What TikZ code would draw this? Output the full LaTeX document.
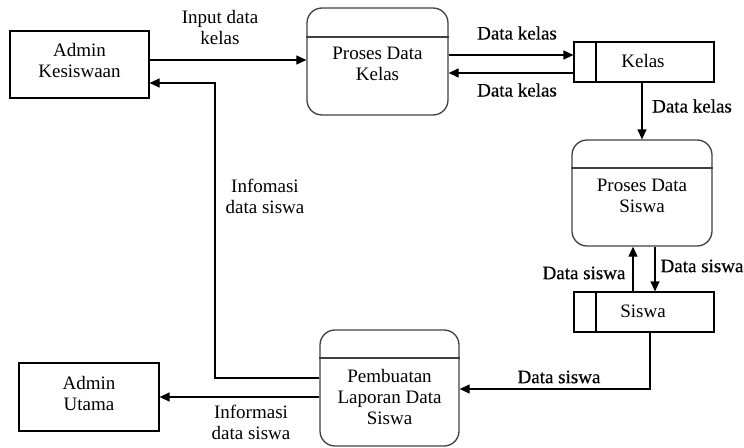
\documentclass[tikz,border=0pt]{standalone}
\usepackage{fontspec}
\setmainfont{Liberation Serif}
\newfontfamily\labfont[FakeBold=0.4]{Liberation Serif}
\usetikzlibrary{arrows.meta}
\begin{document}
\begin{tikzpicture}[x=1pt,y=-1pt,
  line width=1.2pt,
  every node/.style={font=\fontsize{19}{21}\selectfont},
  ent/.style={draw, rectangle, inner sep=0pt},
  proc/.style={draw, rounded corners=15pt, inner sep=0pt, line width=1.3pt, draw=black!75},
  store/.style={draw, rectangle, inner sep=0pt},
  txt/.style={align=center, inner sep=0pt},
  lab/.style={align=center, inner sep=0pt},
  dlab/.style={align=center, inner sep=0pt, font=\fontsize{19}{21}\selectfont\labfont},
  flow/.style={-{Triangle[length=10pt,width=9pt]}}
]
\useasboundingbox (0,0) rectangle (744,447);

% entities
\node[ent, minimum width=139pt, minimum height=67pt] (ak) at (79.5,64.5) {};
\node[txt] (akt) at (79.5,61) {Admin\\Kesiswaan};
\node[ent, minimum width=140pt, minimum height=68pt] (au) at (89,397) {};
\node[txt] (aut) at (89,393) {Admin\\Utama};

% processes
\node[proc, minimum width=141pt, minimum height=107pt] (pk) at (377.5,61.5) {};
\draw[draw=black!75, line width=1.3pt] (pk.west |- 0,37) -- (pk.east |- 0,37);
\node[txt] (pkt) at (377.5,63.5) {Proses Data\\Kelas};

\node[proc, minimum width=140pt, minimum height=106pt] (ps) at (642,193) {};
\draw[draw=black!75, line width=1.3pt] (ps.west |- 0,168) -- (ps.east |- 0,168);
\node[txt] (pst) at (642,195.5) {Proses Data\\Siswa};

\node[proc, minimum width=139pt, minimum height=116pt] (pl) at (389.5,388) {};
\draw[draw=black!75, line width=1.3pt] (pl.west |- 0,358) -- (pl.east |- 0,358);
\node[txt] (plt) at (389.5,396.5) {Pembuatan\\Laporan Data\\Siswa};

% data stores
\node[store, minimum width=140pt, minimum height=40pt] (kelas) at (644,62) {};
\draw (596,0 |- kelas.north) -- (596,0 |- kelas.south);
\node[txt] (kelast) at (643,61) {Kelas};
\node[store, minimum width=140pt, minimum height=40pt] (siswa) at (644,312) {};
\draw (596,0 |- siswa.north) -- (596,0 |- siswa.south);
\node[txt] (siswat) at (643,311) {Siswa};

% flows
\draw[flow] (ak.east |- 0,60) -- (pk.west |- 0,60);
\node[lab] (l1) at (220,28) {Input data\\kelas};

\draw[flow] (pk.east |- 0,55) -- (kelas.west |- 0,55);
\node[dlab] (l2) at (517,33) {Data kelas};
\draw[flow] (kelas.west |- 0,73) -- (pk.east |- 0,73);
\node[dlab] (l3) at (517,90) {Data kelas};

\draw[flow] (kelas.south -| 642,0) -- (ps.north -| 642,0);
\node[dlab] (l4) at (692,106) {Data kelas};

\draw[flow] (siswa.north -| 633,0) -- (ps.south -| 633,0);
\node[dlab] (l5) at (584,273) {Data siswa};
\draw[flow] (ps.south -| 655,0) -- (siswa.north -| 655,0);
\node[dlab] (l6) at (702,266) {Data siswa};

\draw[flow] (siswa.south -| 650,0) -- (650,389) -- (pl.east |- 0,389);
\node[dlab] (l7) at (559,377) {Data siswa};

\draw[flow] (pl.west |- 0,378) -- (215,378) -- (215,83) -- (ak.east |- 0,83);
\node[lab] (l8) at (265,196) {Infomasi\\data siswa};

\draw[flow] (pl.west |- 0,397) -- (au.east |- 0,397);
\node[lab] (l9) at (251,422) {Informasi\\data siswa};
\end{tikzpicture}
\end{document}
